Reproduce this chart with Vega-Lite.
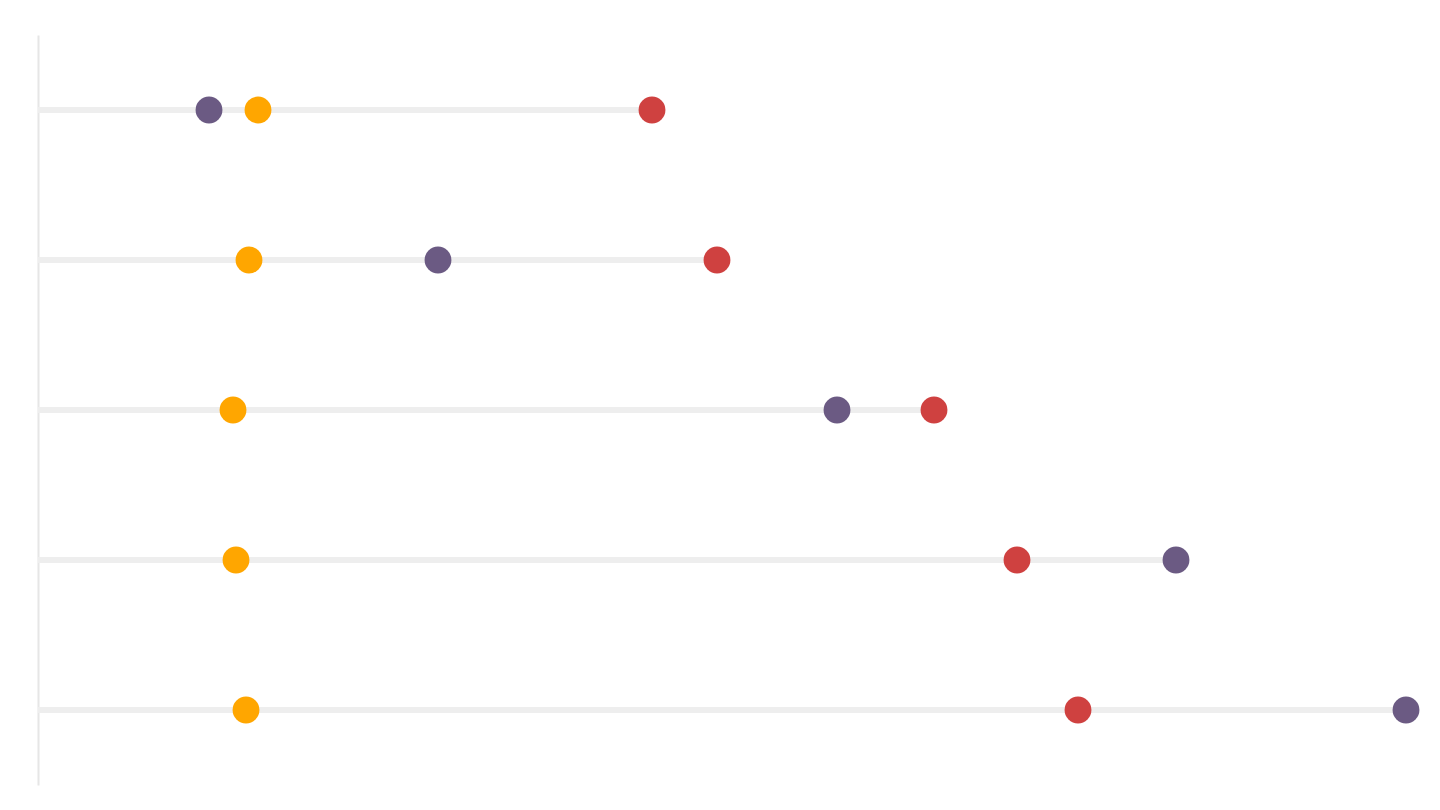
{
  "$schema": "https://vega.github.io/schema/vega-lite/v6.json",
  "width": 1382,
  "height": 750,
  "autosize": {"type": "none"},
  "padding": {"left": 38, "top": 35, "right": 20, "bottom": 25},
  "background": "white",
  "config": {"view": {"stroke": null}},
  "data": {"values": [
    {"group": "A", "series": "purple", "amount": 171},
    {"group": "A", "series": "orange", "amount": 220},
    {"group": "A", "series": "red", "amount": 614},
    {"group": "B", "series": "orange", "amount": 211},
    {"group": "B", "series": "purple", "amount": 400},
    {"group": "B", "series": "red", "amount": 679},
    {"group": "C", "series": "orange", "amount": 195},
    {"group": "C", "series": "purple", "amount": 799},
    {"group": "C", "series": "red", "amount": 896},
    {"group": "D", "series": "orange", "amount": 198},
    {"group": "D", "series": "red", "amount": 979},
    {"group": "D", "series": "purple", "amount": 1138},
    {"group": "E", "series": "orange", "amount": 208},
    {"group": "E", "series": "red", "amount": 1040},
    {"group": "E", "series": "purple", "amount": 1368}
  ]},
  "encoding": {
    "y": {"field": "group", "type": "nominal", "title": null, "axis": {"labels": false, "ticks": false, "domainColor": "#e6e6e6", "domainWidth": 2}, "scale": {"paddingInner": 0, "paddingOuter": 0}}
  },
  "layer": [
    {
      "mark": {"type": "bar", "color": "#eeeeee", "size": 6},
      "encoding": {
        "x": {"aggregate": "max", "field": "amount", "type": "quantitative", "axis": null, "scale": {"domain": [0, 1382], "nice": false}}
      }
    },
    {
      "mark": {"type": "circle", "opacity": 1, "size": 720},
      "encoding": {
        "x": {"field": "amount", "type": "quantitative", "axis": null},
        "color": {"field": "series", "type": "nominal", "legend": null, "scale": {"domain": ["purple", "orange", "red"], "range": ["#6b5a83", "#ffa600", "#cf4140"]}}
      }
    }
  ]
}
